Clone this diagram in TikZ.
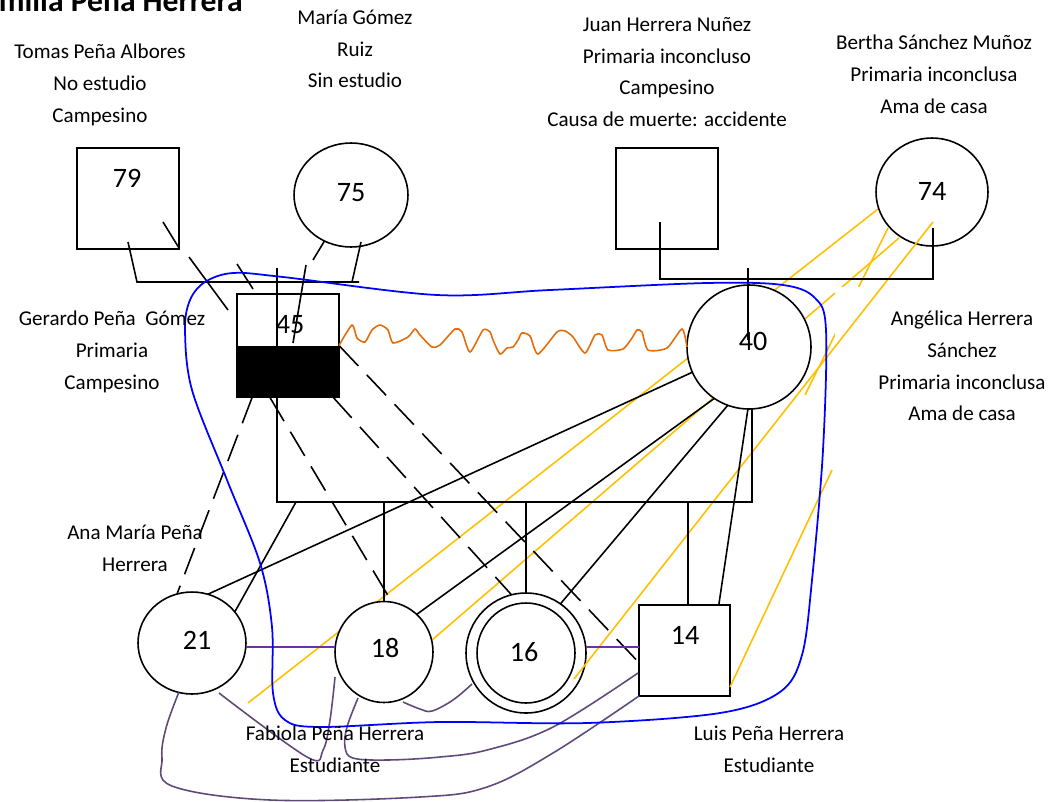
\documentclass[tikz,border=0pt]{standalone}
\usepackage{fontspec}
\setmainfont{Carlito}
\usetikzlibrary{shapes.geometric,calc}

\definecolor{fyellow}{HTML}{FFC000}
\definecolor{fpurple}{HTML}{7030A0}
\definecolor{fgrape}{HTML}{5F497A}
\definecolor{forange}{HTML}{E46C0A}

\tikzset{
  male/.style={draw, line width=0.9pt, fill=white, inner sep=0pt, outer sep=0pt,
    minimum width=2.04cm, minimum height=2.02cm},
  female/.style={ellipse, draw, line width=0.9pt, fill=white, inner sep=0pt, outer sep=0pt},
  age/.style={font=\fontsize{16}{19}\selectfont},
  info/.style={align=center, font=\fontsize{12}{18.1}\selectfont},
  tie/.style={line width=0.9pt},
  cut/.style={line width=0.9pt, dash pattern=on 16pt off 7pt},
  ylw/.style={fyellow, line width=0.9pt},
  near/.style={fpurple, line width=0.9pt},
  bond/.style={fgrape, line width=0.9pt},
}

\begin{document}
\begin{tikzpicture}[x=0.02cm, y=-0.02cm]
  \useasboundingbox (0,0) rectangle (1050,801);
  % Title (cut at the top)
  \node[font=\bfseries\fontsize{18}{22}\selectfont, anchor=base east] (title) at (249,11) {Familia Peña Herrera};

  % Yellow lines behind the people
  \foreach \a/\b in {{878,209}/{248,703}, {899,238}/{432,640}, {888,228}/{805,395}}
    \draw[ylw] (\a) -- (\b);
  \fill[white] (835,287) rectangle (1050,430);

  % People
  \node[male] (p79) at (128,198.5) {};
  \node[female, minimum width=2.28cm, minimum height=2.08cm] (p75) at (351,195) {};
  \node[male] (pJuan) at (667,198.5) {};
  \node[female, minimum width=2.24cm, minimum height=2.16cm] (p74) at (932,192) {};
  \node[male, minimum height=2.06cm] (p45) at (288,345.5) {};
  \fill (p45.west) rectangle (p45.south east);
  \node[female, minimum size=2.48cm] (p40) at (749,347) {};
  \node[female, minimum width=2.16cm, minimum height=2.04cm] (p21) at (192,643) {};
  \node[female, minimum width=1.96cm, minimum height=2.02cm] (p18) at (384,652) {};
  \node[female, minimum size=2.4cm] (p16) at (526,653) {};
  \node[female, minimum width=1.96cm, minimum height=2cm] (p16in) at (526,653) {};
  \node[male, minimum size=1.82cm] (p14) at (684.5,650.5) {};

  % Yellow lines over the people
  \foreach \a/\b in {{933,222}/{574,679}, {832,470}/{730,687}}
    \draw[ylw] (\a) -- (\b);

  % Couples and children
  \coordinate (sibL) at (277,502);
  \coordinate (sibR) at (752,502);
  \draw[tie] (128,242) -- (137,282) -- (359,282);
  \draw[tie] (361,242) -- (352,282);
  \draw[tie] (660,222) -- (660,279) -- (933,279) -- (933,228);
  \draw[tie] (277,268) -- (sibL) -- (sibR) -- (752,408);
  \draw[tie] (748,268) -- (748,340);
  \draw[tie] (p21.36) -- (296,502);
  \draw[tie] (p18.north) -- (p18.north |- sibL);
  \draw[tie] (p16.north) -- (p16.north |- sibL);
  \draw[tie] (688,605) -- (688,502);
  \draw[tie] (p40.204) -- (p21.72);
  \draw[tie] (p40.236) -- (p18.49);
  \draw[tie] (p40.250) -- (p16.55);
  \draw[tie] (p40.269) -- (p14.53.6);

  % Broken relations
  \draw[tie] (163,222) -- (179,248) (189,257) -- (228,310) (237,264) -- (253,289);
  \draw[tie] (p75.240) -- (313,260) (306,265) -- (293,343);
  \draw[cut] ($(p45.south west)!0.15!(p45.south east)$) -- (p21.107);
  \draw[cut] ($(p45.south west)!0.32!(p45.south east)$) -- (p18.81);
  \draw[cut] ($(p45.south west)!0.94!(p45.south east)$) -- (p16.104);
  \draw[cut] (p45.east) -- (p14.195);

  % Close ties between siblings
  \coordinate (hy) at (0,647);
  \draw[near] (p21.east |- hy) -- (p18.west |- hy);
  \draw[near] (p16.east |- hy) -- (p14.west |- hy);
  \draw[bond] plot[smooth, tension=0.6] coordinates {(p21.255) (166,728) (162,758) (172,786) (270,800) (420,797) (487,787) (553,753) (639,696)};
  \draw[bond] plot[smooth, tension=0.6] coordinates {(219,693) (307,757) (323,750) (330,720) (335,677)};
  \draw[bond] plot[smooth, tension=0.6] coordinates {(358,698) (347,727) (345,747) (353,758) (387,760) (440,757) (487,750) (553,727) (638,673)};
  \draw[bond] plot[smooth, tension=0.6] coordinates {(403,702) (420,709) (432,711) (453,700) (472,684)};

  % Conflict
  \draw[forange, line width=0.9pt] plot[smooth, tension=0.4] coordinates {(p45.east) (352,325) (357,338) (365,342) (372,330) (380,325) (388,330) (393,343) (408,337) (415,329) (420,335) (432,347) (440,345) (455,329) (462,332) (470,352) (483,330) (490,332) (493,340) (500,354) (507,348) (513,347) (518,340) (522,333) (530,336) (538,354) (557,332) (565,331) (573,337) (585,353) (595,335) (602,335) (608,350) (623,349) (632,338) (637,330) (642,332) (648,350) (667,348) (682,329) (p40.west)};

  % Household
  \draw[blue, line width=1pt] plot[smooth cycle, tension=0.55] coordinates {(233,273) (283,277) (437,295) (550,290) (707,283) (783,285) (815,298) (826,330) (823,450) (812,580) (802,655) (780,692) (720,713) (587,723) (440,722) (320,727) (285,720) (273,693) (272,627) (260,563) (227,480) (192,390) (185,330) (190,300) (205,282)};

  % Ages
  \node[age] (a79) at (127,178) {79};
  \node[age] (a75) at (351,193) {75};
  \node[age] (a74) at (932,191) {74};
  \node[age] (a45) at (290,325) {45};
  \node[age] (a40) at (753,341) {40};
  \node[age] (a21) at (197,640) {21};
  \node[age] (a18) at (385,648) {18};
  \node[age] (a16) at (524,652) {16};
  \node[age] (a14) at (685,635) {14};
  \draw[tie] (277,300) -- (277,345);

  % Names
  \node[info] (tTomas) at (100,85) {Tomas Peña Albores\\No estudio\\Campesino};
  \node[info] (tMaria) at (355,49) {María Gómez\\Ruiz\\Sin estudio};
  \node[info] (tJuan) at (667,72) {Juan Herrera Nuñez\\Primaria inconcluso\\Campesino\\Causa de muerte: accidente};
  \node[info] (tBertha) at (934,74) {Bertha Sánchez Muñoz\\Primaria inconclusa\\Ama de casa};
  \node[info] (tGerardo) at (112,352) {Gerardo Peña\ \ Gómez\\Primaria\\Campesino};
  \node[info] (tAngelica) at (962,366) {Angélica Herrera\\Sánchez\\Primaria inconclusa\\Ama de casa};
  \node[info] (tAna) at (135,548) {Ana María Peña\\Herrera};
  \node[info] (tFabiola) at (335,749) {Fabiola Peña Herrera\\Estudiante};
  \node[info] (tLuis) at (769,749) {Luis Peña Herrera\\Estudiante};
\end{tikzpicture}
\end{document}
